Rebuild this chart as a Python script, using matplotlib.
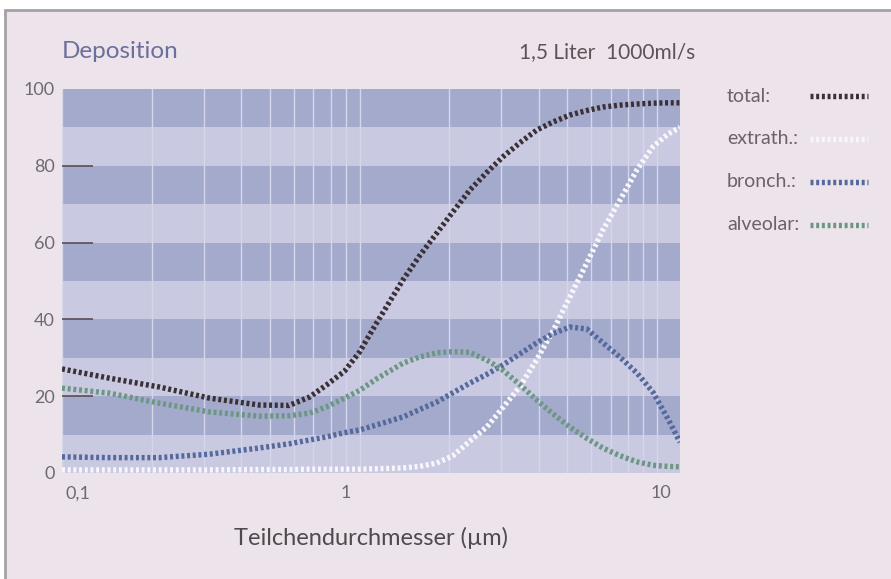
import matplotlib
matplotlib.use("Agg")
import matplotlib.pyplot as plt
from matplotlib.lines import Line2D
from matplotlib.patches import Rectangle
from matplotlib.transforms import ScaledTranslation

plt.rcParams['font.family'] = ['Lato', 'DejaVu Sans']

# particle diameter in micrometres
diameter = [0.1, 0.144, 0.212, 0.313, 0.46, 0.58, 0.68, 0.774, 0.89, 1.0,
            1.14, 1.40, 1.59, 1.82, 2.06, 2.35, 2.68, 3.03, 3.46, 3.94,
            4.47, 5.09, 5.81, 6.58, 7.5, 8.57, 9.7, 10.9, 11.95]

# deposition in percent
total = [27.1, 24.7, 22.4, 19.5, 17.7, 17.6, 19.8, 22.9, 26.5, 31.5,
         39.0, 50.3, 56.5, 62.5, 68.0, 73.7, 78.3, 82.3, 86.0, 89.3,
         91.4, 93.2, 94.4, 95.3, 95.8, 96.1, 96.3, 96.4, 96.4]
extrath = [0.8, 0.8, 0.8, 0.8, 0.9, 0.9, 1.0, 1.0, 1.0, 1.0,
           1.1, 1.3, 1.7, 2.6, 4.5, 8.3, 12.0, 17.0, 22.5, 29.5,
           37.0, 45.8, 54.7, 63.3, 71.0, 79.0, 85.0, 88.3, 90.0]
bronch = [4.2, 4.0, 4.0, 4.9, 6.5, 7.6, 8.6, 9.4, 10.5, 11.2,
          12.5, 14.6, 16.5, 18.5, 20.9, 23.4, 25.7, 28.1, 31.0, 33.9,
          36.3, 38.0, 37.5, 33.9, 30.2, 26.0, 21.0, 14.0, 8.0]
alveolar = [22.1, 20.8, 18.2, 15.9, 14.8, 14.9, 15.6, 17.2, 19.5, 21.5,
            24.5, 28.6, 30.2, 31.3, 31.6, 31.4, 29.4, 26.8, 23.0, 19.0,
            15.4, 12.0, 9.0, 6.5, 4.5, 2.9, 2.0, 1.7, 1.6]

series_names = ["total:", "extrath.:", "bronch.:", "alveolar:"]
series_values = [total, extrath, bronch, alveolar]
series_colors = ["#3b3036", "#f7f7fb", "#56699c", "#6d9784"]

y_ticks = [0, 20, 40, 60, 80, 100]
x_ticks = [0.1, 1, 10]
x_ticklabels = ["0,1", "1", "10"]
dark_bands = [(10, 20), (30, 40), (50, 60), (70, 80), (90, 100)]

fig = plt.figure(figsize=(8.91, 5.79), dpi=100, facecolor="white")

# printed panel behind the chart
fig.add_artist(Rectangle((0.0056, -0.05), 1.1, 1.0327, transform=fig.transFigure,
                         facecolor="#ece4ea", edgecolor="#a4a2a6", lw=2, zorder=0))

ax = fig.add_axes([0.0696, 0.1831, 0.6936, 0.6632])
ax.set_facecolor("#c9c9e1")
for lo, hi in dark_bands:
    ax.axhspan(lo, hi, color="#a3aacb", lw=0, zorder=0)

ax.set_xscale("log")
ax.set_xlim(0.1, 11.95)
ax.set_ylim(0, 100)

ax.grid(True, which="both", axis="x", color="#d6d6ea", lw=1.0, zorder=1)
ax.set_axisbelow(True)

dash = (0, (0.55, 0.5))
for vals, col in zip(series_values, series_colors):
    ax.plot(diameter, vals, color=col, lw=3.9, linestyle=dash,
            dash_capstyle="butt", solid_capstyle="butt", zorder=3)

for s in ax.spines.values():
    s.set_visible(False)

ax.set_yticks(y_ticks)
ax.set_yticklabels([str(v) for v in y_ticks])
ax.tick_params(axis="y", direction="in", length=22, width=1.2, color="#5a4e55",
               labelsize=13, labelcolor="#6e6a72", pad=5)
for t in ax.yaxis.get_major_ticks():
    t.tick1line.set_zorder(4)
ax.yaxis.get_major_ticks()[0].tick1line.set_visible(False)
ax.yaxis.get_major_ticks()[-1].tick1line.set_visible(False)

ax.set_xticks(x_ticks)
ax.set_xticklabels(x_ticklabels)
ax.xaxis.set_minor_formatter(plt.NullFormatter())
ax.tick_params(axis="x", which="both", length=0, labelsize=13,
               labelcolor="#6e6a72", pad=9)
for lab, dx in zip(ax.get_xticklabels(), [16, -14, 4]):
    lab.set_transform(lab.get_transform() + ScaledTranslation(dx / 100, 0, fig.dpi_scale_trans))

ax.set_xlabel("Teilchendurchmesser (µm)", fontsize=17, color="#4e4a4e", labelpad=18)

fig.text(62 / 891, 1 - 52 / 579, "Deposition", fontsize=17.5, color="#6b6f9d",
         ha="left", va="center")
fig.text(695 / 891, 1 - 52 / 579, "1,5 Liter  1000ml/s", fontsize=15,
         color="#5b5358", ha="right", va="center")

# legend at the right
for i, (name, col) in enumerate(zip(series_names, series_colors)):
    yy = 1 - (96 + 43 * i) / 579
    fig.text(727 / 891, yy, name, fontsize=14, color="#6a6268", ha="left", va="center")
    fig.add_artist(Line2D([810 / 891, 868 / 891], [yy, yy], transform=fig.transFigure,
                          color=col, lw=3.9, linestyle=dash, dash_capstyle="butt"))

fig.savefig("out.png", dpi=100, facecolor=fig.get_facecolor())
